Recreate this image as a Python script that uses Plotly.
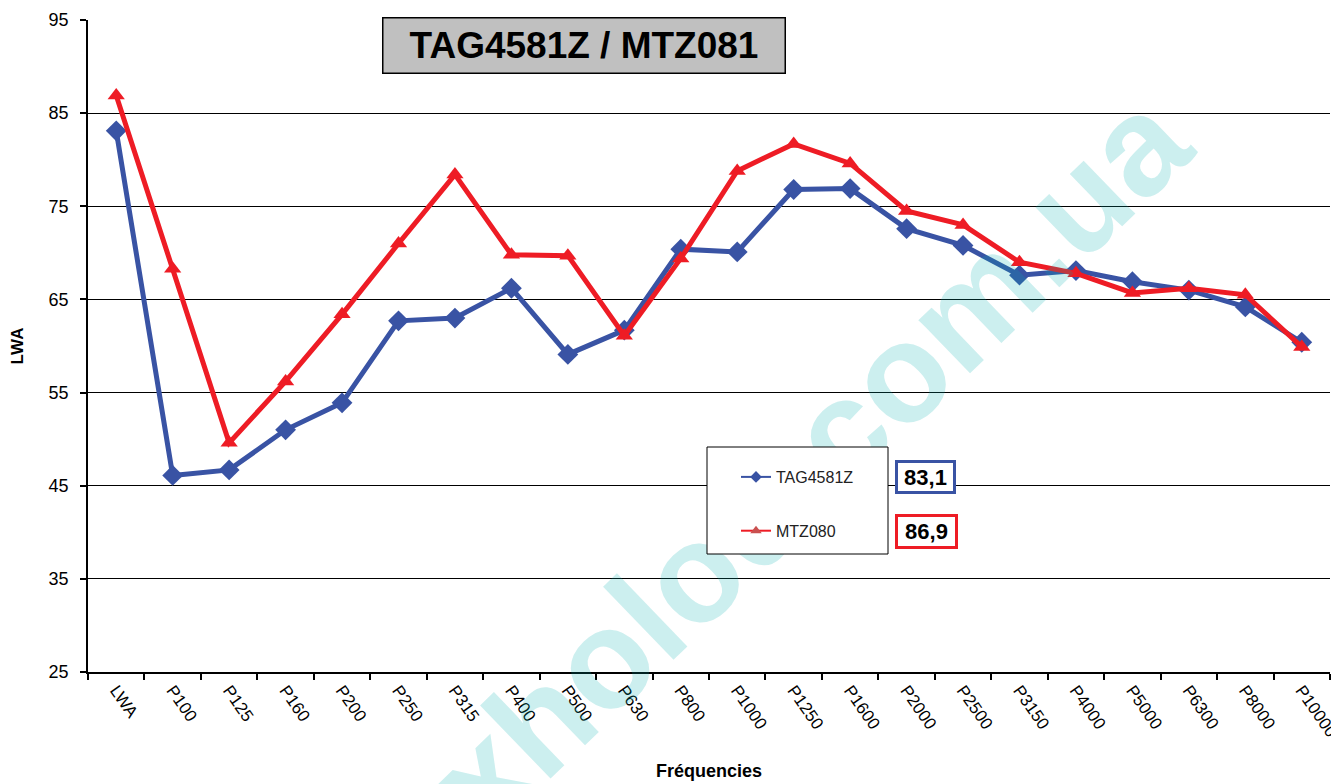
import plotly.graph_objects as go

categories = ["LWA", "P100", "P125", "P160", "P200", "P250", "P315", "P400", "P500",
              "P630", "P800", "P1000", "P1250", "P1600", "P2000", "P2500", "P3150",
              "P4000", "P5000", "P6300", "P8000", "P10000"]

tag4581z = [83.1, 46.1, 46.7, 51.0, 53.9, 62.7, 63.0, 66.2, 59.1, 61.7, 70.4, 70.1,
            76.8, 76.9, 72.6, 70.8, 67.6, 68.1, 66.9, 66.0, 64.2, 60.4]
mtz080 = [86.9, 68.3, 49.6, 56.2, 63.4, 71.0, 78.4, 69.8, 69.7, 61.1, 69.4, 78.8,
          81.7, 79.6, 74.5, 73.0, 69.0, 67.8, 65.7, 66.2, 65.5, 59.9]

y_ticks = [25, 35, 45, 55, 65, 75, 85, 95]

title_text = "TAG4581Z / MTZ081"
name_tag = "TAG4581Z"
name_mtz = "MTZ080"
x_title = "Fréquencies"
y_title = "LWA"
watermark = "xholod.com.ua"

BLUE = "#3953A4"
RED = "#EE1C25"
FONT = "Arial, Liberation Sans, sans-serif"

fig = go.Figure()

fig.add_trace(go.Scatter(x=categories, y=tag4581z, mode="lines+markers", name=name_tag,
                         line=dict(color=BLUE, width=5),
                         marker=dict(symbol="diamond", size=16, color=BLUE),
                         showlegend=False))
fig.add_trace(go.Scatter(x=categories, y=mtz080, mode="lines+markers", name=name_mtz,
                         line=dict(color=RED, width=5),
                         marker=dict(symbol="triangle-up", size=15, color=RED),
                         showlegend=False))

# legend samples (thin lines like the reference legend)
fig.add_trace(go.Scatter(x=[None], y=[None], mode="lines+markers", name=name_tag,
                         line=dict(color=BLUE, width=2),
                         marker=dict(symbol="diamond", size=9, color=BLUE),
                         legendgroup="a"))
fig.add_trace(go.Scatter(x=[None], y=[None], mode="lines+markers", name=name_mtz,
                         line=dict(color=RED, width=2),
                         marker=dict(symbol="triangle-up", size=10, color="#C9504F"),
                         legendgroup="b"))


def px_to_paper_x(px):
    return (px - 88) / 1242.0


def px_to_paper_y(py):
    return (672 - py) / 652.0


wx, wy = px_to_paper_x(800), px_to_paper_y(452)
shapes = [
    # watermark (as a shape label so the legend box can sit above it)
    dict(type="rect", xref="paper", yref="paper", x0=wx - 0.001, x1=wx + 0.001,
         y0=wy - 0.001, y1=wy + 0.001, line=dict(width=0), fillcolor="rgba(0,0,0,0)",
         layer="above",
         label=dict(text=watermark, textangle=-44, textposition="middle center",
                    font=dict(family=FONT, size=140, color="rgba(0,175,175,0.2)",
                              weight="bold"))),
    # legend frame
    dict(type="rect", xref="paper", yref="paper",
         x0=px_to_paper_x(707), x1=px_to_paper_x(888),
         y0=px_to_paper_y(554), y1=px_to_paper_y(447),
         line=dict(color="black", width=1), fillcolor="white", layer="above"),
]

annotations = [
    dict(text="<b>" + title_text + "</b>", x=px_to_paper_x(584), y=px_to_paper_y(45),
         xref="paper", yref="paper", xanchor="center", yanchor="middle", showarrow=False,
         width=401, height=54, bgcolor="#C0C0C0", bordercolor="black", borderwidth=1.5,
         borderpad=0, font=dict(family=FONT, size=37, color="black")),
    dict(text="<b>" + f"{tag4581z[0]:.1f}".replace(".", ",") + "</b>",
         x=px_to_paper_x(925), y=px_to_paper_y(477), xref="paper", yref="paper",
         xanchor="center", yanchor="middle", showarrow=False, width=55, height=28,
         bgcolor="white", bordercolor=BLUE, borderwidth=3, borderpad=0,
         font=dict(family=FONT, size=22, color="black")),
    dict(text="<b>" + f"{mtz080[0]:.1f}".replace(".", ",") + "</b>",
         x=px_to_paper_x(926), y=px_to_paper_y(531), xref="paper", yref="paper",
         xanchor="center", yanchor="middle", showarrow=False, width=57, height=29,
         bgcolor="white", bordercolor=RED, borderwidth=3, borderpad=0,
         font=dict(family=FONT, size=22, color="black")),
]

fig.update_layout(
    width=1331, height=776,
    margin=dict(l=80, r=9, t=12, b=112, autoexpand=False),
    paper_bgcolor="white", plot_bgcolor="white",
    font=dict(family=FONT, color="black"),
    showlegend=True,
    legend=dict(x=px_to_paper_x(736), y=px_to_paper_y(460), xanchor="left", yanchor="top",
                bgcolor="rgba(0,0,0,0)", borderwidth=0, tracegroupgap=30,
                font=dict(family=FONT, size=16, color="#222222"),
                traceorder="grouped"),
    shapes=shapes,
    annotations=annotations,
    xaxis=dict(type="category", range=[-0.5, len(categories) - 0.5], automargin=False,
               showline=True, linecolor="black", linewidth=1.5,
               ticks="outside", tickson="boundaries", ticklen=6, tickcolor="black",
               tickwidth=1.5, tickangle=55, tickfont=dict(size=17),
               showgrid=False,
               title=dict(text="<b>" + x_title + "</b>", font=dict(size=18), standoff=25)),
    yaxis=dict(range=[25, 95], tickvals=y_ticks, showline=True, linecolor="black",
               automargin=False,
               linewidth=1.5, ticks="outside", ticklen=6, tickcolor="black", tickwidth=1.5,
               showgrid=True, gridcolor="black", gridwidth=1, zeroline=False,
               tickfont=dict(size=18), ticklabelstandoff=8,
               title=dict(text="<b>" + y_title + "</b>", font=dict(size=17), standoff=22)),
)

fig.write_html("out.html")
